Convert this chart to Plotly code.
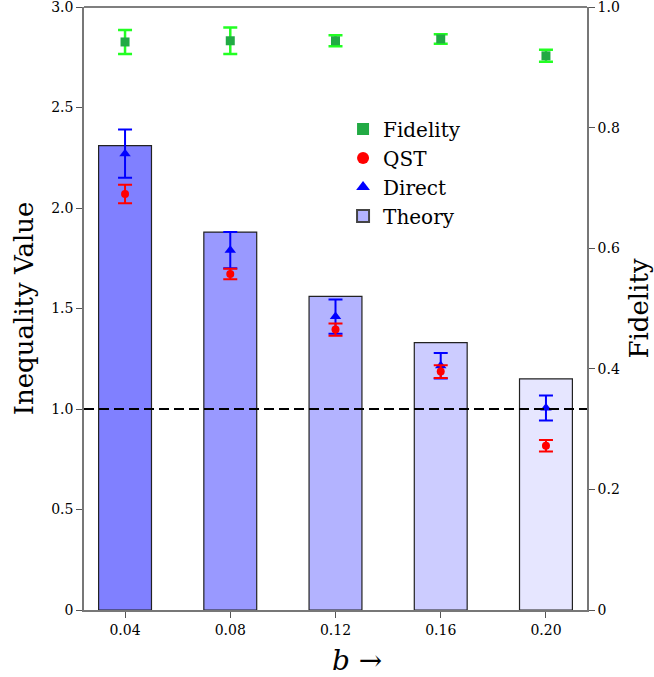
import plotly.graph_objects as go

b_vals = [0.04, 0.08, 0.12, 0.16, 0.20]
b_labels = ["0.04", "0.08", "0.12", "0.16", "0.20"]
theory = [2.31, 1.88, 1.56, 1.33, 1.15]
direct = [2.27, 1.79, 1.46, 1.215, 1.005]
direct_err = [0.12, 0.09, 0.085, 0.063, 0.062]
qst = [2.07, 1.672, 1.395, 1.186, 0.817]
qst_err = [0.046, 0.026, 0.03, 0.032, 0.029]
fidelity = [0.942, 0.944, 0.944, 0.947, 0.919]
fidelity_err = [0.02, 0.022, 0.009, 0.008, 0.01]
bar_colors = ["#8080ff", "#9999ff", "#b3b3ff", "#ccccff", "#e6e6ff"]
left_ticks = [0, 0.5, 1.0, 1.5, 2.0, 2.5, 3.0]
left_labels = ["0", "0.5", "1.0", "1.5", "2.0", "2.5", "3.0"]
right_ticks = [0, 0.2, 0.4, 0.6, 0.8, 1.0]
right_labels = ["0", "0.2", "0.4", "0.6", "0.8", "1.0"]

FONT = "DejaVu Serif"

fig = go.Figure()

fig.add_trace(go.Bar(
    x=b_vals, y=theory, width=0.0201,
    marker=dict(color=bar_colors, line=dict(color="#222222", width=1.2)),
    showlegend=False, name="Theory"))
fig.add_trace(go.Bar(
    x=[None], y=[None], name="Theory",
    marker=dict(color="#b3b3ff", line=dict(color="#444444", width=1.2)),
    legendrank=4))

fig.add_trace(go.Scatter(
    x=b_vals, y=direct, mode="markers", name="Direct",
    marker=dict(symbol="triangle-up", size=10, color="#0000ff"),
    error_y=dict(type="data", array=direct_err, color="#0000ff", thickness=2, width=7),
    legendrank=3))
fig.add_trace(go.Scatter(
    x=b_vals, y=qst, mode="markers", name="QST",
    marker=dict(symbol="circle", size=8, color="#ff0000"),
    error_y=dict(type="data", array=qst_err, color="#ff0000", thickness=2, width=7),
    legendrank=2))
fig.add_trace(go.Scatter(
    x=b_vals, y=fidelity, mode="markers", name="Fidelity", yaxis="y2",
    marker=dict(symbol="square", size=9, color="#22aa44"),
    error_y=dict(type="data", array=fidelity_err, color="#22ff22", thickness=2.5, width=7),
    legendrank=1))

fig.add_shape(type="line", xref="paper", x0=0, x1=1, yref="y", y0=1.0, y1=1.0,
              line=dict(color="black", width=2, dash="10px,5px"))
fig.add_shape(type="line", xref="paper", x0=0, x1=1, yref="paper", y0=1, y1=1,
              line=dict(color="black", width=1.2))

fig.add_annotation(text="<i>b</i> →", xref="paper", yref="paper", x=0.543, y=-0.083,
                   xanchor="center", yanchor="middle", showarrow=False,
                   font=dict(size=28, family=FONT, color="black"))

axis_common = dict(ticks="outside", ticklen=6, tickcolor="#555", showline=True,
                   linecolor="#777", linewidth=1.6, showgrid=False, zeroline=False,
                   tickfont=dict(size=14), ticklabeloverflow="allow", automargin=False)

fig.update_layout(
    width=654, height=677,
    margin=dict(l=84, r=67, t=7, b=67, autoexpand=False),
    plot_bgcolor="white", paper_bgcolor="white",
    font=dict(family=FONT, color="black", size=14),
    barmode="overlay",
    xaxis=dict(range=[0.0244, 0.2156], tickvals=b_vals, ticktext=b_labels,
               **axis_common),
    yaxis=dict(range=[0, 3.0], tickvals=left_ticks, ticktext=left_labels,
               title=dict(text="Inequality Value", font=dict(size=26, family=FONT), standoff=10),
               **axis_common),
    yaxis2=dict(range=[0, 1.0], overlaying="y", side="right",
                tickvals=right_ticks, ticktext=right_labels,
                title=dict(text="Fidelity", font=dict(size=26, family=FONT), standoff=12),
                **axis_common),
    legend=dict(x=0.515, y=0.83, xanchor="left", yanchor="top",
                bgcolor="rgba(0,0,0,0)", font=dict(size=20, family=FONT),
                itemsizing="constant", tracegroupgap=0),
)

fig.write_html("out.html")
